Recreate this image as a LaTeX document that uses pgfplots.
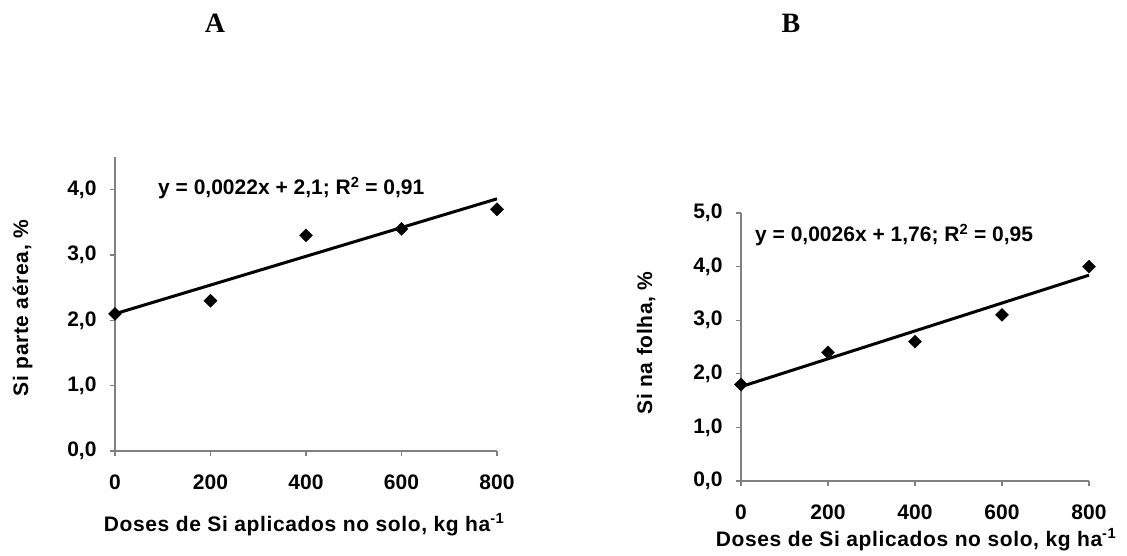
\documentclass[border=0pt]{standalone}
\usepackage{fontspec}
\setmainfont{Liberation Sans}
\newfontfamily\seriffont{Liberation Serif}
\usepackage{pgfplots}
\pgfplotsset{compat=1.18}
\definecolor{axgray}{HTML}{808080}
\newcommand{\lbl}{\fontsize{21}{25}\selectfont\bfseries}
\pgfplotsset{
  myax/.style={
    scale only axis,
    axis x line*=bottom, axis y line*=left,
    axis line style={axgray, line width=1.3pt},
    tick style={axgray, line width=1.3pt},
    tick align=outside,
    major tick length=5pt,
    xmin=0, xmax=800,
    ymin=0,
    xtick={0,200,400,600,800},
    xticklabels={0,200,400,600,800},
    ticklabel style={font=\lbl},
    xticklabel style={yshift=-15pt},
    yticklabel style={xshift=-10pt},
    label style={font=\lbl\addfontfeature{LetterSpace=3}},
    clip=false,
  }
}
\begin{document}
\begin{tikzpicture}[x=1pt,y=1pt]
\path[use as bounding box] (0,0) rectangle (1127,555);
\begin{axis}[myax,
  at={(115pt,104pt)}, anchor=south west,
  width=382pt, height=294pt,
  ymax=4.5,
  ytick={0,1,2,3,4},
  yticklabels={{0,0},{1,0},{2,0},{3,0},{4,0}},
  xlabel={Doses de Si aplicados no solo, kg ha\textsuperscript{-1}},
  ylabel={Si parte aérea, \%},
  xlabel style={at={(axis description cs:0.495,0)}, anchor=base, yshift=-80pt},
  ylabel style={at={(axis description cs:-0.2277,0.486)}, anchor=base},
]
\addplot[black, line width=3pt] coordinates {(0,2.1) (800,3.86)};
\addplot[only marks, mark=square*, mark size=4.6pt, mark options={rotate=45, fill=black, draw=black}] coordinates {(0,2.1) (200,2.3) (400,3.3) (600,3.4) (800,3.7)};
\end{axis}
\begin{axis}[myax,
  at={(741pt,74pt)}, anchor=south west,
  width=348pt, height=268pt,
  ymax=5,
  ytick={0,1,2,3,4,5},
  yticklabels={{0,0},{1,0},{2,0},{3,0},{4,0},{5,0}},
  xlabel={Doses de Si aplicados no solo, kg ha\textsuperscript{-1}},
  ylabel={Si na folha, \%},
  xlabel style={at={(axis description cs:0.503,0)}, anchor=base, yshift=-65pt},
  ylabel style={at={(axis description cs:-0.2557,0.515)}, anchor=base},
]
\addplot[black, line width=3pt] coordinates {(0,1.76) (800,3.84)};
\addplot[only marks, mark=square*, mark size=4.6pt, mark options={rotate=45, fill=black, draw=black}] coordinates {(0,1.8) (200,2.4) (400,2.6) (600,3.1) (800,4.0)};
\end{axis}
\node[anchor=base west, font=\lbl, inner sep=0] at (158,360) {y = 0,0022x + 2,1; R\textsuperscript{2} = 0,91};
\node[anchor=base west, font=\lbl, inner sep=0] at (755,313) {y = 0,0026x + 1,76; R\textsuperscript{2} = 0,95};
\node[anchor=base, font=\seriffont\fontsize{28}{32}\selectfont\bfseries, inner sep=0] at (215,522) {A};
\node[anchor=base, font=\seriffont\fontsize{28}{32}\selectfont\bfseries, inner sep=0] at (791,522) {B};
\end{tikzpicture}
\end{document}
